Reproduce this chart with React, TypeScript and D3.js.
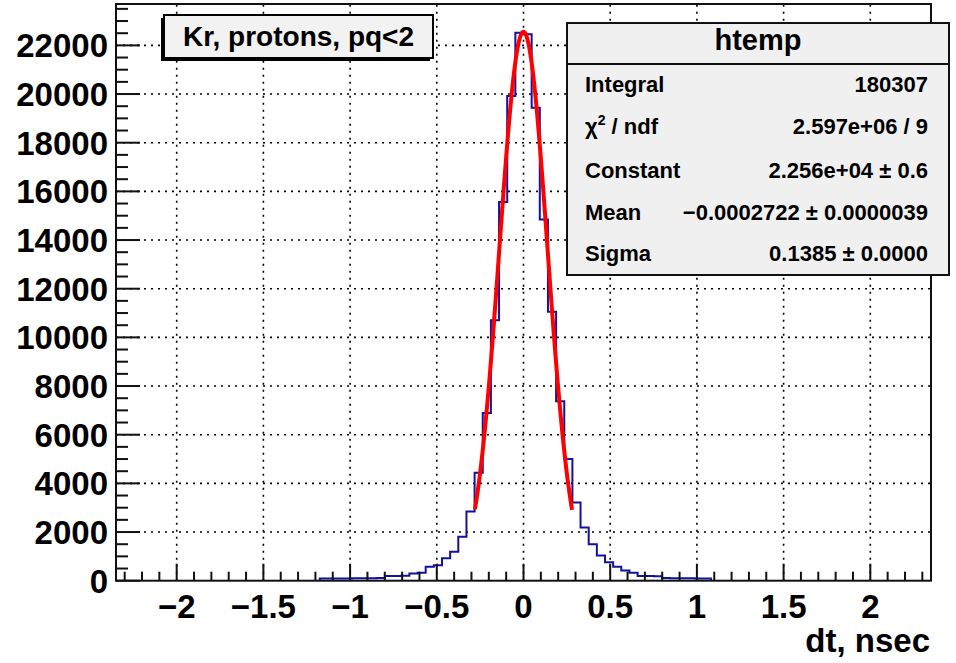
import React from "react";
import * as d3 from "d3";

// Histogram: 100 bins from -2.35 to 2.35 (width 0.047); nonzero bins start at index 25
const binLow = -2.35;
const binWidth = 0.047;
const firstBin = 25;
const counts = [
  90, 90, 95, 95, 100, 100, 105, 110, // 25-32
  190, 190, 200, // 33-35
  300, 330, 575, 640, 920, 1190, 1810, // 36-42
  2840, 4440, 6890, 10700, 15560, 19920, 22520, // 43-49
  22460, 19440, 14840, 11050, 7370, 5000, 3210, 2190, // 50-57
  1500, 1040, 760, 575, 420, 330, 190, 190, 180, // 58-66
  110, 105, 100, 100, 95, 90, // 67-72
];

// Gaussian fit parameters (from stats box)
const fitConstant = 22560;
const fitMean = -0.0002722;
const fitSigma = 0.1385;
const fitRange = [-0.28, 0.28];

const xMajorTicks = [-2, -1.5, -1, -0.5, 0, 0.5, 1, 1.5, 2];
const xTickLabels = ["\u22122", "\u22121.5", "\u22121", "\u22120.5", "0", "0.5", "1", "1.5", "2"];
const yMajorTicks = [0, 2000, 4000, 6000, 8000, 10000, 12000, 14000, 16000, 18000, 20000, 22000];

const statsTitle = "htemp";
const statsLabels = ["Integral", "CHI", "Constant", "Mean", "Sigma"];
const statsValues = ["180307", "2.597e+06 / 9", "2.256e+04 \u00b1 0.6", "\u22120.0002722 \u00b1 0.0000039", "0.1385 \u00b1 0.0000"];
const legendText = "Kr, protons, pq<2";
const xTitle = "dt, nsec";

const W = 956;
const H = 663;
const FL = 116, FR = 931, FT = 4, FB = 580.7;
const FONT = "'Liberation Sans', Arial, Helvetica, sans-serif";

export default function App() {
  const x = d3.scaleLinear().domain([-2.35, 2.35]).range([FL, FR]);
  const y = d3.scaleLinear().domain([0, 23700]).range([FB, FT]);

  // histogram step path
  const pts: [number, number][] = [];
  counts.forEach((c, i) => {
    const lo = binLow + (firstBin + i) * binWidth;
    const hi = lo + binWidth;
    pts.push([x(lo), y(c)]);
    pts.push([x(hi), y(c)]);
  });
  const lo0 = binLow + firstBin * binWidth;
  const hiN = binLow + (firstBin + counts.length) * binWidth;
  const histPts: [number, number][] = [[x(lo0), y(0)], ...pts, [x(hiN), y(0)]];
  const histPath = d3.line()(histPts) || "";

  const fitXs = d3.range(0, 101).map((k) => fitRange[0] + (k * (fitRange[1] - fitRange[0])) / 100);
  const fitPath =
    d3
      .line<number>()
      .x((v) => x(v))
      .y((v) => y(fitConstant * Math.exp(-0.5 * ((v - fitMean) / fitSigma) ** 2)))(fitXs) || "";

  const xMinor = d3.range(-23, 24).map((k) => k / 10);
  const yMinor = d3.range(0, 48).map((k) => k * 500);

  const statY = [92, 134, 178, 220, 261];

  return (
    <svg
      width={W}
      height={H}
      style={{ position: "absolute", left: 0, top: 0, background: "#fff" }}
      fontFamily={FONT}
      fontWeight="bold"
    >
      <rect x={0} y={0} width={W} height={H} fill="#fff" />
      {/* grid */}
      <g stroke="#000" strokeWidth={1.6} strokeDasharray="2 5">
        {xMajorTicks.map((t) => (
          <line key={"gx" + t} x1={x(t)} x2={x(t)} y1={FB} y2={FT} />
        ))}
        {yMajorTicks.slice(1).map((t) => (
          <line key={"gy" + t} x1={FL} x2={FR} y1={y(t)} y2={y(t)} />
        ))}
      </g>
      {/* histogram */}
      <path d={histPath} fill="none" stroke="#12129c" strokeWidth={2} />
      {/* fit */}
      <path d={fitPath} fill="none" stroke="#ff0000" strokeWidth={4} strokeLinejoin="round" />
      {/* frame */}
      <rect x={FL} y={FT} width={FR - FL} height={FB - FT} fill="none" stroke="#111" strokeWidth={2} />
      {/* x ticks */}
      <g stroke="#111" strokeWidth={2}>
        {xMinor.map((t) => {
          const major = Math.abs(t * 2 - Math.round(t * 2)) < 1e-6;
          return <line key={"xt" + t} x1={x(t)} x2={x(t)} y1={FB} y2={FB - (major ? 17 : 9)} />;
        })}
        {yMinor.map((t) => {
          const major = t % 2000 === 0;
          return <line key={"yt" + t} x1={FL} x2={FL + (major ? 24 : 12)} y1={y(t)} y2={y(t)} />;
        })}
      </g>
      {/* tick labels */}
      <g fontSize={33} fill="#000">
        {xMajorTicks.map((t, i) => (
          <text key={"xl" + t} x={x(t)} y={618} textAnchor="middle">
            {xTickLabels[i]}
          </text>
        ))}
        {yMajorTicks.map((t) => (
          <text key={"yl" + t} x={108} y={y(t) + 12} textAnchor="end">
            {String(t)}
          </text>
        ))}
        <text x={930} y={652} textAnchor="end">
          {xTitle}
        </text>
      </g>
      {/* legend box */}
      <rect x={161} y={18} width={269} height={43} fill="#000" />
      <rect x={164} y={15} width={269} height={43} fill="#f2f2f2" stroke="#000" strokeWidth={2} />
      <text x={298.5} y={46} textAnchor="middle" fontSize={28} fill="#000">
        {legendText}
      </text>
      {/* stats box */}
      <rect x={567} y={23} width={382} height={252} fill="#f0f0f0" stroke="#111" strokeWidth={2} />
      <line x1={567} x2={949} y1={64} y2={64} stroke="#111" strokeWidth={2} />
      <text x={758} y={50} textAnchor="middle" fontSize={29} fill="#000">
        {statsTitle}
      </text>
      <g fontSize={22} fill="#000">
        {statsLabels.map((l, i) => (
          <text key={"sl" + i} x={585} y={statY[i]}>
            {l === "CHI" ? (
              <>
                <tspan>{"\u03c7"}</tspan>
                <tspan fontSize={14} dy={-9}>
                  2
                </tspan>
                <tspan dy={9}>{" / ndf"}</tspan>
              </>
            ) : (
              l
            )}
          </text>
        ))}
        {statsValues.map((v, i) => (
          <text key={"sv" + i} x={928} y={statY[i]} textAnchor="end">
            {v}
          </text>
        ))}
      </g>
    </svg>
  );
}
